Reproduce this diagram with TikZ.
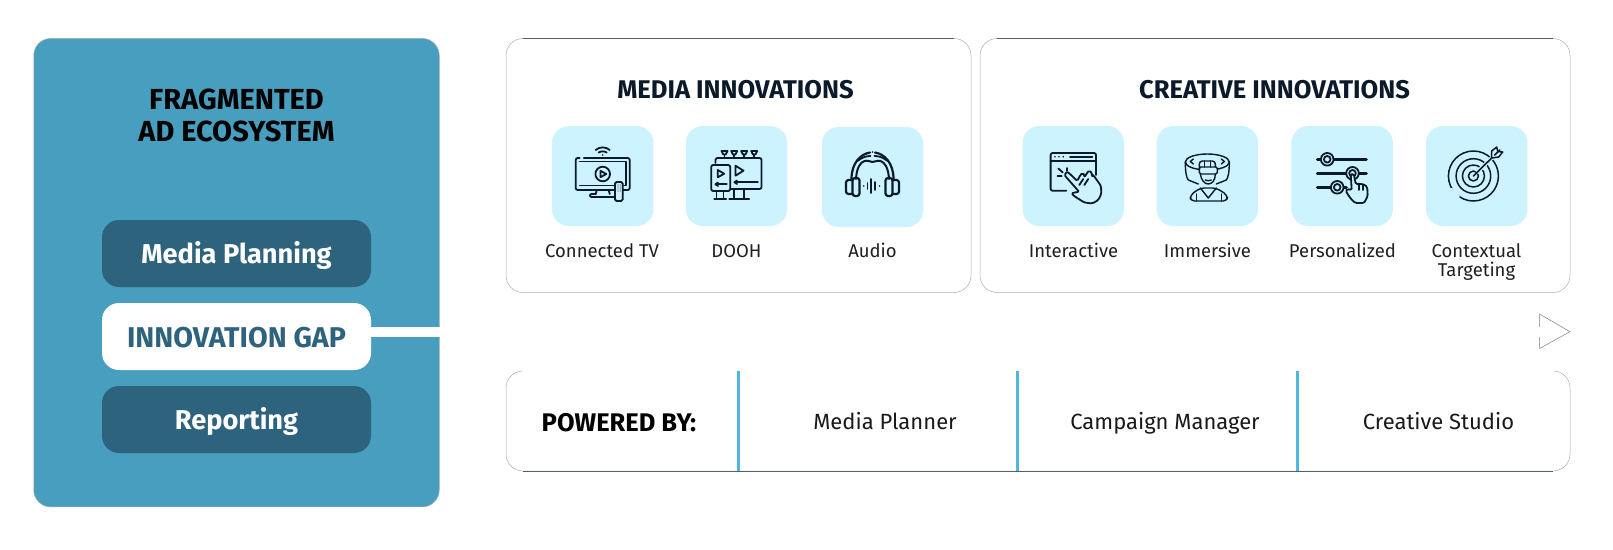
\documentclass[tikz,border=0pt]{standalone}
\usepackage{fontspec}
\setmainfont{Fira Sans}
\definecolor{panelblue}{HTML}{489EBE}
\definecolor{boxdark}{HTML}{2E637E}
\definecolor{tilec}{HTML}{CCF3FF}
\definecolor{inkc}{HTML}{0B1A2B}
\definecolor{divc}{HTML}{4DB8DE}
\definecolor{edgec}{HTML}{A9B0B3}
\definecolor{edged}{HTML}{556065}
\tikzset{
  panel/.style={draw=edgec,line width=0.5pt,rounded corners=17pt,inner sep=0pt,minimum width=#1},
  leftpanel/.style={panel=405.5pt,fill=panelblue,minimum height=468.5pt},
  whitepanel/.style={panel=#1,fill=white},
  sidebox/.style={fill=boxdark,rounded corners=17pt,minimum width=269pt,minimum height=67pt,inner sep=0pt},
  gapbox/.style={sidebox,fill=white},
  tile/.style={fill=tilec,rounded corners=17pt,minimum width=101.5pt,minimum height=100pt,inner sep=0pt},
  titletext/.style={anchor=base,font=\fontsize{25.6}{28}\selectfont\bfseries,text=inkc,inner sep=0pt},
  lefttitle/.style={anchor=base,font=\fontsize{29}{32}\selectfont\bfseries,text=black,inner sep=0pt},
  boxtext/.style={anchor=base,font=\fontsize{27.2}{30}\selectfont\bfseries,text=white,inner sep=0pt},
  label/.style={anchor=base,font=\fontsize{18.5}{22}\selectfont,text=black!88,inner sep=0pt},
  ptext/.style={anchor=base,font=\fontsize{22}{26}\selectfont,text=black!90,inner sep=0pt},
  icon/.style={draw=inkc,line width=1.8pt,line cap=round,line join=round},
  divider/.style={draw=divc,line width=3pt},
  edgedark/.style={draw=edged,line width=0.9pt},
  tri/.style={draw=black!50,line width=0.5pt},
  gapline/.style={draw=white,line width=10pt},
}
\begin{document}
\begin{tikzpicture}[x=1pt,y=-1pt]
\useasboundingbox[fill=white] (0,0) rectangle (1613,549);

% left panel
\node[leftpanel] (left) at (236.5,272.7) {};
\node[sidebox] (plan) at (236.5,253.5) {};
\node[gapbox] (gap) at (236.5,336.5) {};
\node[sidebox] (rep) at (236.5,419.5) {};
\node[lefttitle] (lt1) at (236.5,109) {FRAGMENTED};
\node[lefttitle] (lt2) at (236.5,141.5) {AD ECOSYSTEM};
\node[boxtext] (plant) at (236.5,263) {Media Planning};
\node[boxtext,text=boxdark,font=\fontsize{28.6}{30}\selectfont\bfseries] (gapt) at (236.5,347) {INNOVATION GAP};
\node[boxtext] (rept) at (236.5,429) {Reporting};

% panels
\node[whitepanel=465pt,minimum height=254pt] (media) at (738.5,165.5) {};
\node[whitepanel=590pt,minimum height=254pt] (creative) at (1275,165.5) {};
\node[whitepanel=1064pt,minimum height=100pt] (powered) at (1038,421) {};
\draw[edgedark] ([xshift=17pt]media.north west) -- ([xshift=-17pt]media.north east);
\draw[edgedark] ([xshift=17pt]creative.north west) -- ([xshift=-17pt]creative.north east);
\draw[draw=white,line width=1.8pt] ([xshift=16pt]powered.north west) -- ([xshift=-16pt]powered.north east);
\draw[edgedark] ([xshift=17pt]powered.south west) -- ([xshift=-17pt]powered.south east);

% arrow outline and white connector
\coordinate (ta) at (1539.5,314);
\coordinate (tb) at (1570,331.7);
\coordinate (tc) at (1539.5,348.5);
\draw[tri] (ta) -- (tb) -- (tc) -- cycle;
\coordinate (gs) at (gap.east |- tb);
\draw[gapline] (gs) -- ([xshift=1.5pt]ta |- tb);

% titles
\node[titletext] (mt) at (735.5,98.5) {MEDIA INNOVATIONS};
\node[titletext] (ct) at (1274.5,98.5) {CREATIVE INNOVATIONS};

% tiles
\node[tile] (tv) at (602.7,176) {};
\node[tile] (dooh) at (736.5,176) {};
\node[tile] (aud) at (872.5,177) {};
\node[tile] (inter) at (1073.3,176) {};
\node[tile] (imm) at (1207.3,176) {};
\node[tile] (pers) at (1342.2,176) {};
\node[tile] (ctx) at (1476.7,176) {};

% labels
\node[label] (l1) at (602,257) {Connected TV};
\node[label] (l2) at (736.5,257) {DOOH};
\node[label] (l3) at (872.5,257.5) {Audio};
\node[label] (l4) at (1073.5,257) {Interactive};
\node[label] (l5) at (1207.5,257) {Immersive};
\node[label] (l6) at (1342.5,257) {Personalized};
\node[label] (l7) at (1476.5,257) {Contextual};
\node[label] (l8) at (1476.5,276) {Targeting};

% powered row
\node[ptext,font=\fontsize{25.5}{28}\selectfont\bfseries,text=black] (pb) at (619,431) {POWERED BY:};
\node[ptext] (p1) at (885,429.5) {Media Planner};
\node[ptext] (p2) at (1165,429.5) {Campaign Manager};
\node[ptext] (p3) at (1438.5,429.5) {Creative Studio};
\coordinate (d1) at (738.3,421);
\coordinate (d2) at (1017.7,421);
\coordinate (d3) at (1297.6,421);
\draw[divider] (d1 |- powered.north) -- (d1 |- powered.south);
\draw[divider] (d2 |- powered.north) -- (d2 |- powered.south);
\draw[divider] (d3 |- powered.north) -- (d3 |- powered.south);

% TV icon
\begin{scope}[shift={(tv.center)},icon]
  \draw[rounded corners=2pt] (-23,-18) -- (-27,-18) -- (-27,14) -- (12,14);
  \draw[rounded corners=2pt] (-19,-18) -- (27,-18) -- (27,14) -- (20,14);
  \draw (-23,-14.5) -- (23,-14.5) -- (23,9.5) -- (12,9.5);
  \draw (12,9.5) -- (-23,9.5) -- cycle;
  \draw (0,-2) circle (7.3);
  \draw (-2.2,-5.2) -- (3.6,-2) -- (-2.2,1.2) -- cycle;
  \draw (-6,14) -- (-7,18);
  \draw (6,14) -- (7,18);
  \draw[rounded corners=1.5pt] (-7,18) -- (-13,18) -- (-13,21) -- (12,21);
  \draw[rounded corners=1.5pt,fill=tilec] (12.3,6) rectangle (20,25);
  \foreach \a in {14.5,16.2,17.9}{\foreach \b in {9,11,13,15}{\fill[inkc] (\a,\b) circle (0.45);}}
  \draw (-7,-26) .. controls (-3,-29.5) and (3,-29.5) .. (7,-26);
  \draw (-4,-23.5) .. controls (-2,-25) and (2,-25) .. (4,-23.5);
  \fill[inkc] (0,-21) circle (0.9);
\end{scope}

% DOOH icon
\begin{scope}[shift={(dooh.center)},icon]
  \draw[rounded corners=2pt] (-21,-13) -- (-21,-18) -- (25,-18) -- (25,13) -- (-6,13);
  \foreach \a in {-12,-2.3,7.7,17.7}{
    \draw (\a-3,-25) -- (\a+3,-25) -- (\a+1.2,-21.5) -- (\a-1.2,-21.5) -- cycle;
    \draw (\a,-21.5) -- (\a,-18);}
  \draw[rounded corners=2pt] (-25.3,-11) rectangle (-6.3,15);
  \draw (-18.7,-6) -- (-18.7,1.3) -- (-12.3,-2.3) -- cycle;
  \draw (-9.7,8.3) -- (-21,8.3);
  \draw (-18.5,6.5) -- (-21,8.3) -- (-18.5,10);
  \draw (-1,-10.3) -- (-1,-0.3) -- (7,-5.3) -- cycle;
  \draw (21.3,6.3) -- (-2,6.3);
  \draw (0.5,4.5) -- (-2,6.3) -- (0.5,8);
  \draw (-20,15) -- (-20,23.3);
  \draw (-13,15) -- (-13,23.3);
  \draw (-22.3,23.3) -- (-10.3,23.3);
  \draw (-2.3,13) -- (-2.3,23.3);
  \draw (7.7,13) -- (7.7,23.3);
  \draw (-7.3,23.3) -- (12.7,23.3);
\end{scope}

% Audio icon
\begin{scope}[shift={(aud.center)},icon]
  \draw[line width=2.2pt] (-21,2) .. controls (-21,-14) and (-12,-23) .. (-2.5,-24.5);
  \draw[line width=2.2pt] (21,2) .. controls (21,-14) and (12,-23) .. (2.5,-24.5);
  \fill[inkc] (0,-25) circle (0.9);
  \draw[line width=2pt] (-16.5,2) .. controls (-16,-9) and (-12,-15) .. (-8,-16) .. controls (-4,-17) and (-3,-15) .. (0,-15) .. controls (3,-15) and (4,-17) .. (8,-16) .. controls (12,-15) and (16,-9) .. (16.5,2);
  \draw (-15,-16) .. controls (-10,-20) and (-6,-21) .. (-2,-21);
  \draw (15,-16) .. controls (10,-20) and (6,-21) .. (2,-21);
  \draw[rounded corners=2.5pt,line width=2.2pt] (-20,1) rectangle (-13,19);
  \draw[rounded corners=2.5pt,line width=2.2pt] (13,1) rectangle (20,19);
  \draw[rounded corners=2.5pt,line width=2.2pt] (-20,3) -- (-26.5,3) -- (-26.5,17) -- (-20,17);
  \draw[rounded corners=2.5pt,line width=2.2pt] (20,3) -- (26.5,3) -- (26.5,17) -- (20,17);
  \draw (-5,6) -- (-5,12);
  \draw (-1.5,2) -- (-1.5,16);
  \draw (2.5,5) -- (2.5,13);
  \fill[inkc] (-8.8,9) circle (0.9);
  \fill[inkc] (7,9) circle (0.9);
\end{scope}

% Interactive icon
\begin{scope}[shift={(inter.center)},icon]
  \draw[rounded corners=2pt] (-7,14.7) -- (-22.7,14.7) -- (-22.7,-23) -- (22.7,-23) -- (22.7,-1);
  \draw (-22.7,-15) -- (22.7,-15);
  \foreach \a in {-18.3,-14.3,-10}{\fill[inkc] (\a,-19.2) circle (0.9);}
  \draw (-3.3,-19.2) -- (19,-19.2);
  \draw (-15,-7.5) -- (-10.5,-3.5);
  \draw (-6.7,-8) -- (-6.7,-5);
  \draw (-15.7,0) -- (-11.7,0);
  \draw[fill=tilec,rounded corners=1.5pt] (-9,-1) -- (-6,-4.5) -- (4,5) -- (7,-1) -- (9,-3) -- (11.5,-1) -- (11,1.5) -- (14,-3.5) -- (16,-5.5) -- (19,-2.5) -- (18.5,0) -- (20,-1) -- (27.7,10) -- (28,18) -- (25,24) -- (19,27.5) -- (11,26.5) -- (1.5,20.5) -- (-2,17.5) -- (3,16) -- (6,16) -- cycle;
  \draw (10,3) -- (6,9);
  \draw (15,3) -- (11,9);
\end{scope}

% Immersive icon
\begin{scope}[shift={(imm.center)},icon,line width=1.4pt]
  \draw (0,-14) ellipse (22 and 8);
  \draw (-22,-14) .. controls (-22,-5) and (-21,2) .. (-19,4) -- (-9,8);
  \draw (22,-14) .. controls (22,-5) and (21,2) .. (19,4) -- (9,8);
  \draw (-14,-17) -- (-17,-14.5) -- (-14,-12);
  \draw (14,-17) -- (17,-14.5) -- (14,-12);
  \draw[fill=tilec,rounded corners=3pt] (-8,-7) -- (-8,-15) -- (8,-15) -- (8,-7);
  \draw[fill=tilec,rounded corners=1.5pt] (-8,-9) rectangle (10,-2);
  \draw (-3,-15) -- (-3,-9);
  \draw (3,-15) -- (3,-9);
  \draw (-7,-2) .. controls (-6,4) and (-3,8) .. (1,8) .. controls (5,8) and (8,4) .. (8,-2);
  \draw (-2,4) .. controls (0,5) and (2,5) .. (4,4);
  \draw[rounded corners=4pt] (-17,25) -- (-17,19) -- (-7,12) -- (9,12) -- (20,19) -- (20,25) -- cycle;
  \draw (-7,12) -- (1,22) -- (9,12);
  \draw (-11,18) -- (-11,25);
  \draw (14,18) -- (14,25);
\end{scope}

% Personalized icon
\begin{scope}[shift={(pers.center)},icon]
  \draw[line width=2.6pt] (-25,-16.7) -- (24.3,-16.7);
  \draw[line width=2.6pt] (-25,-2.7) -- (24.3,-2.7);
  \draw[line width=2.6pt] (-25,11.3) -- (4.3,11.3);
  \foreach \c in {(-15,-16.7),(10.3,-2.7),(-5,11.3)}{
    \fill[tilec] \c circle (6.3);
    \draw \c circle (6.3);
    \draw \c circle (3.3);}
  \draw[fill=tilec,rounded corners=1.5pt] (8.5,-2) -- (11.5,-2) -- (13.5,8) -- (16,8) -- (19,8) -- (22,8.5) -- (25,11) -- (25.5,20) -- (22,27) -- (13,27) -- (8,22) -- (3.5,15) -- (5,13) -- (9.5,14) -- cycle;
  \draw (16.5,8) -- (16.5,14);
  \draw (21,8.5) -- (21,14);
\end{scope}

% Contextual icon
\begin{scope}[shift={(ctx.center)},icon,line width=1.5pt]
  \draw (-3.3,0) circle (25);
  \draw (-3.3,0) circle (17.3);
  \draw (-3.3,0) circle (11);
  \draw (-3.3,0) circle (5);
  \draw[tilec,line width=4pt] (1,-4.3) -- (17,-20);
  \draw[tilec,line width=4pt] (-25,14) -- (-19,21);
  \draw[line width=1.6pt] (-3.3,0) -- (18,-21);
  \draw[fill=tilec] (15,-18) -- (15,-25) -- (20,-29) -- (21,-24.5) -- (26,-24) -- (22,-19) -- cycle;
  \draw (18,-21) -- (23,-26);
\end{scope}
\end{tikzpicture}
\end{document}
